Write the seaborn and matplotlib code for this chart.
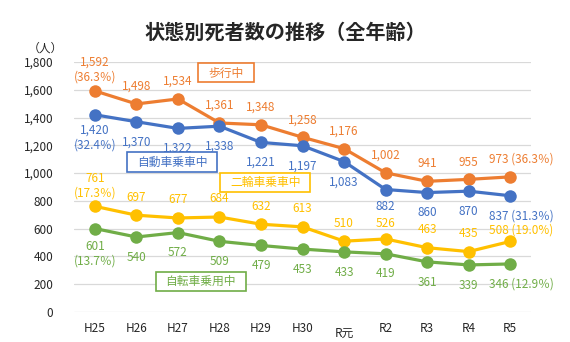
import matplotlib
matplotlib.use("Agg")
import matplotlib.pyplot as plt
import seaborn as sns
import pandas as pd

# ---- data ----
years = ["H25", "H26", "H27", "H28", "H29", "H30", "R元", "R2", "R3", "R4", "R5"]
walking = [1592, 1498, 1534, 1361, 1348, 1258, 1176, 1002, 941, 955, 973]
car = [1420, 1370, 1322, 1338, 1221, 1197, 1083, 882, 860, 870, 837]
motorcycle = [761, 697, 677, 684, 632, 613, 510, 526, 463, 435, 508]
bicycle = [601, 540, 572, 509, 479, 453, 433, 419, 361, 339, 346]

series_names = ["歩行中", "自動車乗車中", "二輪車乗車中", "自転車乗用中"]
series_values = [walking, car, motorcycle, bicycle]
first_share = ["(36.3％)", "(32.4％)", "(17.3％)", "(13.7％)"]
last_share = ["(36.3％)", "(31.3％)", "(19.0%)", "(12.9％)"]

colors = ["#ED7D31", "#4472C4", "#FFC000", "#70AD47"]

sns.set_style("white")
plt.rcParams["font.family"] = ["Noto Sans CJK JP", "DejaVu Sans"]

rows = []
for name, vals in zip(series_names, series_values):
    for i, (yr, v) in enumerate(zip(years, vals)):
        rows.append({"idx": i, "year": yr, "value": v, "series": name})
df = pd.DataFrame(rows)

fig = plt.figure(figsize=(5.7, 3.42), dpi=100)
ax = fig.add_axes([0.130, 0.0877, 0.8016, 0.731])

sns.lineplot(data=df, x="idx", y="value", hue="series", hue_order=series_names,
             palette=colors, marker="o", markersize=9, markeredgewidth=0,
             linewidth=2.3, legend=False, ax=ax, zorder=3)

ax.set_xlim(-0.5, 10.5)
ax.set_ylim(0, 1800)
ax.set_yticks(range(0, 1801, 200))
ax.set_yticklabels([f"{v:,}" for v in range(0, 1801, 200)])
ax.set_xticks(range(len(years)))
ax.set_xticklabels(years)
for lbl in ax.get_xticklabels():
    if lbl.get_text() == "R元":
        lbl.set_y(-0.02)
ax.tick_params(axis="y", length=0, pad=15, labelsize=8.5)
ax.tick_params(axis="x", length=0, pad=7, labelsize=8.5)
ax.grid(axis="y", color="#D9D9D9", linewidth=0.9)
ax.set_axisbelow(True)
for s in ax.spines.values():
    s.set_visible(False)
ax.set_xlabel("")
ax.set_ylabel("")

# value labels: vertical offset (points) for single-line, two-line and last labels
offsets = [(12.5, 15.5, 12.5), (-14.5, -16.5, -14.5),
           (13.0, 15.0, 8.5), (-14.5, -18.0, -14.5)]
# per-point tweaks where two series' labels crowd each other
tweaks = {(1, 7): -12.5, (2, 7): 11.0}
for k, (vals, col) in enumerate(zip(series_values, colors)):
    single, double, last = offsets[k]
    for i, v in enumerate(vals):
        txt = f"{v:,}"
        dx, dy = 0, tweaks.get((k, i), single)
        if i == 0:
            txt = f"{v:,}\n{first_share[k]}"
            dy = double
        elif i == len(vals) - 1:
            txt = f"{v:,} {last_share[k]}"
            dx, dy = 8, last
        ax.annotate(txt, (i, v), xytext=(dx, dy), textcoords="offset points",
                    ha="center", va="center", color=col, fontsize=8.5,
                    linespacing=1.15, zorder=5)

# series name boxes
box_pos = [(3.16, 1721), (1.86, 1080), (4.10, 929), (2.55, 223)]
for name, col, (bx, by) in zip(series_names, colors, box_pos):
    ax.text(bx, by, name, color=col, fontsize=8.5, ha="center", va="center",
            zorder=6,
            bbox=dict(boxstyle="square,pad=0.85", mutation_aspect=0.3,
                      facecolor="white", edgecolor=col, linewidth=1.2))

fig.text(0.5, 0.905, "状態別死者数の推移（全年齢）", ha="center", va="center",
         fontsize=14.5, fontweight="bold")
fig.text(0.079, 0.860, "（人）", ha="center", va="center", fontsize=8.5)

fig.savefig("out.png", dpi=100)
